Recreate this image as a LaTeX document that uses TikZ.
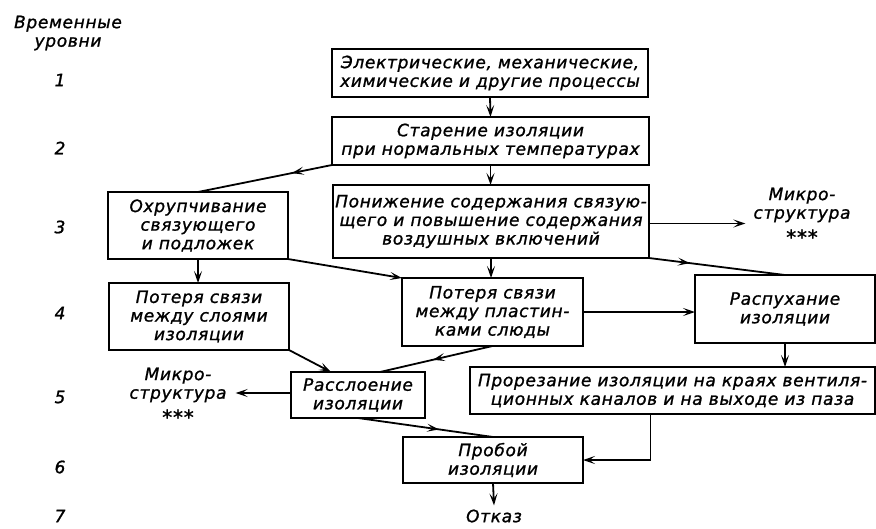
\documentclass[tikz,border=0pt]{standalone}
\usepackage{fontspec}
\usetikzlibrary{arrows.meta,decorations.markings}
\newfontfamily\drf[LetterSpace=4,FakeBold=1.2]{DejaVu Sans}
\newcommand\txtfont{\drf\itshape\fontsize{17}{18.6}\selectfont}
\newcommand\stars{\raisebox{-7pt}{\fontsize{20}{20}\selectfont ***}}
\begin{document}
\begin{tikzpicture}[x=1pt,y=-1pt,
  box/.style={draw, line width=1.8pt, inner sep=0pt, outer sep=0pt, align=center, font=\txtfont},
  lbl/.style={inner sep=0pt, align=center, font=\txtfont},
  arr/.style={line width=1.8pt, -{Stealth[length=12pt,width=8pt,inset=5.5pt]}},
  midarr/.style={line width=1.8pt, postaction=decorate,
    decoration={markings, mark=at position #1 with {\arrow{Stealth[length=12pt,width=8pt,inset=5.5pt]}}}}]
\useasboundingbox (0,0) rectangle (876,528);

% time levels
\node[lbl] (hdr) at (68,33) {Временные\\уровни};
\node[lbl] (l1) at (60,80) {1};
\node[lbl] (l2) at (60,148) {2};
\node[lbl] (l3) at (60,227) {3};
\node[lbl] (l4) at (60,313) {4};
\node[lbl] (l5) at (60,397) {5};
\node[lbl] (l6) at (60,467) {6};
\node[lbl] (l7) at (60,516) {7};

% process boxes
\node[box, minimum width=316pt, minimum height=48pt] (b1) at (490,73)
  {Электрические, механические,\\химические и другие процессы};
\node[box, minimum width=317pt, minimum height=48pt] (b2) at (490.5,141)
  {Старение изоляции\\при нормальных температурах};
\node[box, minimum width=180pt, minimum height=67pt] (b3a) at (198,225.5)
  {Охрупчивание\\связующего\\и подложек};
\node[box, minimum width=316pt, minimum height=73pt] (b3b) at (491,221.5)
  {Понижение содержания связую-\\щего и повышение содержания\\воздушных включений};
\node[box, minimum width=180pt, minimum height=67pt] (b4a) at (199,316.5)
  {Потеря связи\\между слоями\\изоляции};
\node[box, minimum width=181pt, minimum height=68pt] (b4b) at (492.5,312)
  {Потеря связи\\между пластин-\\ками слюды};
\node[box, minimum width=180pt, minimum height=68pt] (b4c) at (785,309)
  {Распухание\\изоляции};
\node[box, minimum width=134pt, minimum height=46pt] (b5a) at (358,395)
  {Расслоение\\изоляции};
\node[box, minimum width=405pt, minimum height=47pt] (b5b) at (672.5,390.5)
  {Прорезание изоляции на краях вентиля-\\ционных каналов и на выходе из паза};
\node[box, minimum width=180pt, minimum height=46pt] (b6) at (493,460)
  {Пробой\\изоляции};
\node[lbl, inner sep=4pt] (otk) at (494,516) {Отказ};

% microstructure notes
\node[lbl, inner xsep=8pt] (m1) at (802,216) {Микро-\\структура\\\stars};
\node[lbl, inner xsep=9pt] (m2) at (178,396) {Микро-\\структура\\\stars};

% connections
\draw[arr] (b1.south) -- (b2.north);
\draw[midarr=0.3] (b2.south west) -- (b3a.north);
\draw[arr] (b2.south) -- (b2.south |- b3b.north);
\draw[arr] (b3a.south) -- (b3a.south |- b4a.north);
\draw[arr] (b3a.south east) -- (b4b.north west);
\draw[arr] (b3b.south) -- (b3b.south |- b4b.north);
\draw[arr] ([yshift=-2pt]b3b.east) -- ([yshift=-2pt]b3b.east -| m1.west);
\draw[midarr=0.3] (b3b.south east) -- (b4c.north);
\draw[arr] (b4b.east) -- (b4b.east -| b4c.west);
\draw[arr] (b4c.south) -- (b4c.south |- b5b.north);
\draw[arr] (b4a.south east) -- ([xshift=40pt]b5a.north west);
\draw[midarr=0.53] (b4b.south) -- ([xshift=89pt]b5a.north west);
\draw[arr] ([yshift=2pt]b5a.west) -- ([yshift=2pt]b5a.west -| m2.east);
\draw[midarr=0.6] (b5a.south) -- (b6.north);
\draw[arr] ([xshift=-22pt]b5b.south) |- (b6.east);
\draw[arr] (b6.south) -- (otk.north);
\end{tikzpicture}
\end{document}
